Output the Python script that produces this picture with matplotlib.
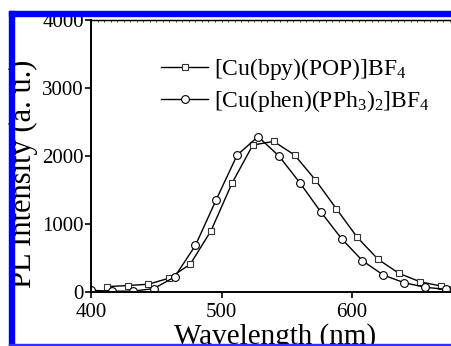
import matplotlib
matplotlib.use("Agg")
import matplotlib.pyplot as plt
from matplotlib.patches import Rectangle

plt.rcParams['font.family'] = ['Liberation Serif', 'DejaVu Serif']
plt.rcParams['mathtext.fontset'] = 'custom'
plt.rcParams['mathtext.rm'] = 'Liberation Serif'
plt.rcParams['mathtext.it'] = 'Liberation Serif:italic'

# [Cu(bpy)(POP)]BF4 - squares
bpy_wl = [412, 428, 444, 460, 476, 492, 508, 524, 540, 556, 572, 588, 604, 620, 636, 652, 668, 684]
bpy_pl = [75, 90, 110, 200, 403, 897, 1594, 2157, 2210, 2010, 1643, 1220, 800, 476, 270, 147, 84, 50]

# [Cu(phen)(PPh3)2]BF4 - circles
phen_wl = [400, 416, 432, 448, 464, 480, 496, 512, 528, 544, 560, 576, 592, 608, 624, 640, 656, 672, 688]
phen_pl = [20, 8, 8, 45, 215, 680, 1355, 2010, 2280, 1996, 1603, 1176, 780, 456, 245, 132, 65, 35, 20]

labels = [r'[Cu(bpy)(POP)]BF$_4$', r'[Cu(phen)(PPh$_3$)$_2$]BF$_4$']

W, H = 452, 346
fig = plt.figure(figsize=(W / 100, H / 100), dpi=100)

# axes placed in pixel terms, right part runs past the picture edge
left, right_px, top, bottom = 91, 91 + 300 * 1.305, 19.7, 291.7
ax = fig.add_axes([left / W, 1 - bottom / H, (right_px - left) / W, (bottom - top) / H])

ax.plot(bpy_wl, bpy_pl, '-', color='black', lw=1.0, marker='s', ms=4.8,
        mfc='white', mec='#333333', mew=0.8, label=labels[0])
ax.plot(phen_wl, phen_pl, '-', color='black', lw=1.0, marker='o', ms=5.6,
        mfc='white', mec='black', mew=0.8, label=labels[1])

ax.set_xlim(400, 700)
ax.set_ylim(0, 4000)
ax.set_xticks([400, 500, 600])
ax.set_yticks([0, 1000, 2000, 3000, 4000])
ax.tick_params(axis='both', direction='out', length=4, width=1.2, labelsize=15, pad=1)
ax.tick_params(axis='x', pad=4)
ax.spines['left'].set_linewidth(1.4)
ax.spines['bottom'].set_linewidth(1.4)
ax.spines['top'].set_linewidth(1.0)
ax.spines['right'].set_visible(False)

# tiny ticks on the top spine
ax2 = ax.secondary_xaxis('top')
ax2.set_xticks(range(400, 705, 5))
ax2.tick_params(direction='in', length=1.5, width=0.5, labeltop=False)
ax2.set_xticklabels([])

leg = ax.legend(loc='upper left', bbox_to_anchor=((161 - left) / (right_px - left), (bottom - 56) / (bottom - top)),
                frameon=False, fontsize=17, handlelength=2.0, handletextpad=0.25,
                labelspacing=0.25, borderpad=0, borderaxespad=0)

fig.text(23 / W, 1 - 174 / H, 'PL Intensity (a. u.)', rotation=90, fontsize=22,
         ha='center', va='center')
fig.text(275 / W, 1 - 337 / H, 'Wavelength (nm)', fontsize=21, ha='center', va='center')

# blue frame around the picture
blue = '#0000ff'
fig.patches.append(Rectangle((9 / W, 0), 5 / W, 1 - 11 / H, transform=fig.transFigure,
                             color=blue, zorder=10))
fig.patches.append(Rectangle((9 / W, 1 - 16 / H), 1, 5 / H, transform=fig.transFigure,
                             color=blue, zorder=10))
fig.patches.append(Rectangle((9 / W, 0), 1, 2.5 / H, transform=fig.transFigure,
                             color='#3030ff', zorder=10))

fig.savefig('out.png', dpi=100)
